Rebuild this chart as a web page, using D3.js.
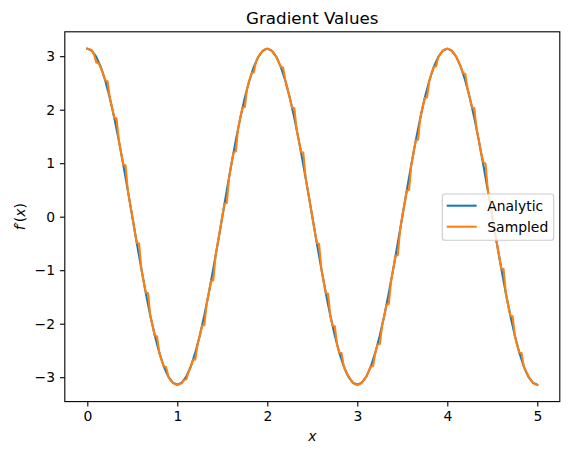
<!DOCTYPE html>
<html><head><meta charset="utf-8">
<script src="https://cdn.jsdelivr.net/npm/d3@7"></script>
<style>body{margin:0;background:#fff}svg{display:block;font-family:"DejaVu Sans",sans-serif}</style>
</head><body><div id="chart"></div>
<script>
const xValues = [0,0.05,0.1,0.15,0.2,0.25,0.3,0.35,0.4,0.45,0.5,0.55,0.6,0.65,0.7,0.75,0.8,0.85,0.9,0.95,1,
1.05,1.1,1.15,1.2,1.25,1.3,1.35,1.4,1.45,1.5,1.55,1.6,1.65,1.7,1.75,1.8,1.85,1.9,1.95,2,
2.05,2.1,2.15,2.2,2.25,2.3,2.35,2.4,2.45,2.5,2.55,2.6,2.65,2.7,2.75,2.8,2.85,2.9,2.95,3,
3.05,3.1,3.15,3.2,3.25,3.3,3.35,3.4,3.45,3.5,3.55,3.6,3.65,3.7,3.75,3.8,3.85,3.9,3.95,4,
4.05,4.1,4.15,4.2,4.25,4.3,4.35,4.4,4.45,4.5,4.55,4.6,4.65,4.7,4.75,4.8,4.85,4.9,4.95,5];
const analytic = [3.1416,3.1029,2.9878,2.7992,2.5416,2.2214,1.8466,1.4263,0.9708,0.4914,0,
-0.4914,-0.9708,-1.4263,-1.8466,-2.2214,-2.5416,-2.7992,-2.9878,-3.1029,-3.1416,
-3.1029,-2.9878,-2.7992,-2.5416,-2.2214,-1.8466,-1.4263,-0.9708,-0.4914,0,
0.4914,0.9708,1.4263,1.8466,2.2214,2.5416,2.7992,2.9878,3.1029,3.1416,
3.1029,2.9878,2.7992,2.5416,2.2214,1.8466,1.4263,0.9708,0.4914,0,
-0.4914,-0.9708,-1.4263,-1.8466,-2.2214,-2.5416,-2.7992,-2.9878,-3.1029,-3.1416,
-3.1029,-2.9878,-2.7992,-2.5416,-2.2214,-1.8466,-1.4263,-0.9708,-0.4914,0,
0.4914,0.9708,1.4263,1.8466,2.2214,2.5416,2.7992,2.9878,3.1029,3.1416,
3.1029,2.9878,2.7992,2.5416,2.2214,1.8466,1.4263,0.9708,0.4914,0,
-0.4914,-0.9708,-1.4263,-1.8466,-2.2214,-2.5416,-2.7992,-2.9878,-3.1029,-3.1416];
const sampledX = [0,0.025,0.05,0.075,0.1,0.125,0.15,0.175,0.2,0.225,0.25,0.275,0.3,0.325,0.35,0.375,0.4,0.425,0.45,0.475,
0.5,0.525,0.55,0.575,0.6,0.625,0.65,0.675,0.7,0.725,0.75,0.775,0.8,0.825,0.85,0.875,0.9,0.925,0.95,0.975,
1,1.025,1.05,1.075,1.1,1.125,1.15,1.175,1.2,1.225,1.25,1.275,1.3,1.325,1.35,1.375,1.4,1.425,1.45,1.475,
1.5,1.525,1.55,1.575,1.6,1.625,1.65,1.675,1.7,1.725,1.75,1.775,1.8,1.825,1.85,1.875,1.9,1.925,1.95,1.975,
2,2.025,2.05,2.075,2.1,2.125,2.15,2.175,2.2,2.225,2.25,2.275,2.3,2.325,2.35,2.375,2.4,2.425,2.45,2.475,
2.5,2.525,2.55,2.575,2.6,2.625,2.65,2.675,2.7,2.725,2.75,2.775,2.8,2.825,2.85,2.875,2.9,2.925,2.95,2.975,
3,3.025,3.05,3.075,3.1,3.125,3.15,3.175,3.2,3.225,3.25,3.275,3.3,3.325,3.35,3.375,3.4,3.425,3.45,3.475,
3.5,3.525,3.55,3.575,3.6,3.625,3.65,3.675,3.7,3.725,3.75,3.775,3.8,3.825,3.85,3.875,3.9,3.925,3.95,3.975,
4,4.025,4.05,4.075,4.1,4.125,4.15,4.175,4.2,4.225,4.25,4.275,4.3,4.325,4.35,4.375,4.4,4.425,4.45,4.475,
4.5,4.525,4.55,4.575,4.6,4.625,4.65,4.675,4.7,4.725,4.75,4.775,4.8,4.825,4.85,4.875,4.9,4.925,4.95,4.975,5];
const sampled = [3.14,3.13,3.11,3.03,2.88,2.87,2.78,2.68,2.55,2.53,2.22,2.04,1.85,1.84,1.43,1.20,0.97,0.96,0.49,0.25,
0.01,-0.25,-0.49,-0.50,-0.97,-1.20,-1.42,-1.43,-1.85,-2.04,-2.22,-2.24,-2.54,-2.68,-2.80,-2.81,-2.98,-3.06,-3.10,-3.13,
-3.14,-3.13,-3.11,-3.05,-3.04,-2.90,-2.80,-2.68,-2.67,-2.39,-2.22,-2.04,-2.03,-1.64,-1.43,-1.20,-1.19,-0.73,-0.49,-0.25,
0.01,0.24,0.26,0.73,0.97,1.20,1.22,1.64,1.85,2.04,2.05,2.39,2.54,2.68,2.70,2.90,2.99,3.05,3.10,3.13,
3.14,3.13,3.10,3.05,2.99,2.90,2.80,2.79,2.55,2.39,2.22,2.04,2.03,1.64,1.43,1.21,1.20,0.73,0.49,0.25,
0.00,-0.25,-0.49,-0.51,-0.97,-1.20,-1.43,-1.44,-1.85,-2.04,-2.05,-2.39,-2.54,-2.55,-2.80,-2.90,-2.98,-3.04,-3.10,-3.13,
-3.14,-3.13,-3.10,-3.05,-2.99,-2.90,-2.80,-2.79,-2.54,-2.39,-2.38,-2.04,-1.85,-1.64,-1.63,-1.20,-0.97,-0.73,-0.72,-0.25,
0.01,0.25,0.49,0.50,0.97,1.20,1.43,1.44,1.85,2.04,2.22,2.23,2.54,2.68,2.80,2.81,2.98,3.05,3.10,3.13,
3.14,3.13,3.10,3.05,2.99,2.90,2.80,2.68,2.67,2.39,2.22,2.04,2.03,1.64,1.43,1.20,1.02,0.99,0.49,0.25,
0.01,-0.25,-0.49,-0.73,-0.97,-0.98,-1.43,-1.64,-1.85,-1.86,-2.22,-2.39,-2.54,-2.55,-2.80,-2.90,-2.97,-3.05,-3.10,-3.13,-3.14];
const xTicks = [0,1,2,3,4,5];
const yTicks = [-3,-2,-1,0,1,2,3];
const seriesNames = ["Analytic","Sampled"];
const colors = ["#1f77b4","#ff7f0e"];

const W=570,H=455;
const L=64.8,R=559.8,T=31.8,B=401.6;
const svg=d3.select("#chart").append("svg").attr("width",W).attr("height",H);
const x=d3.scaleLinear().domain([-0.25,5.25]).range([L,R]);
const y=d3.scaleLinear().domain([-3.4558,3.4558]).range([B,T]);

const series=[{xs:xValues,ys:analytic},{xs:sampledX,ys:sampled}];
series.forEach((s,k)=>{
  const line=d3.line().x((d,i)=>x(s.xs[i])).y(d=>y(d));
  svg.append("path").datum(s.ys).attr("d",line).attr("fill","none")
    .attr("stroke",colors[k]).attr("stroke-width",2.08).attr("stroke-linejoin","round").attr("stroke-linecap","square");
});

const xa=svg.append("g").attr("transform",`translate(0,${B})`)
  .call(d3.axisBottom(x).tickValues(xTicks).tickFormat(d3.format("d")).tickSize(4.86).tickPadding(4.86));
const ya=svg.append("g").attr("transform",`translate(${L},0)`)
  .call(d3.axisLeft(y).tickValues(yTicks).tickFormat(d=>d<0?"\u2212"+Math.abs(d):d).tickSize(4.86).tickPadding(4.86));
[xa,ya].forEach(a=>{
  a.select(".domain").remove();
  a.selectAll("line").attr("stroke","#000").attr("stroke-width",1.1);
  a.selectAll("text").attr("font-size",13.9).attr("font-family","DejaVu Sans").attr("fill","#000");
});
svg.append("rect").attr("x",L).attr("y",T).attr("width",R-L).attr("height",B-T)
  .attr("fill","none").attr("stroke","#000").attr("stroke-width",1.1);

svg.append("text").attr("x",(L+R)/2).attr("y",23.5).attr("text-anchor","middle")
  .attr("font-size",16.7).text("Gradient Values");
svg.append("text").attr("x",(L+R)/2).attr("y",441).attr("text-anchor","middle")
  .attr("font-size",13.9).attr("font-style","italic").text("x");
const yl=svg.append("text").attr("transform","translate(25,216.7) rotate(-90)").attr("text-anchor","middle").attr("font-size",13.9);
yl.append("tspan").attr("font-style","italic").text("f\u2032");
yl.append("tspan").text("(");
yl.append("tspan").attr("font-style","italic").text("x");
yl.append("tspan").text(")");

const lg=svg.append("g");
lg.append("rect").attr("x",442.3).attr("y",194).attr("width",111.4).attr("height",46.3).attr("rx",2.8)
  .attr("fill","#fff").attr("fill-opacity",0.8).attr("stroke","#cccccc").attr("stroke-width",1.1);
seriesNames.forEach((n,k)=>{
  const yy=205.7+k*21;
  lg.append("line").attr("x1",446.7).attr("x2",476.7).attr("y1",yy).attr("y2",yy)
    .attr("stroke",colors[k]).attr("stroke-width",2.08);
  lg.append("text").attr("x",487.3).attr("y",yy+5).attr("font-size",13.9).text(n);
});
</script></body></html>
